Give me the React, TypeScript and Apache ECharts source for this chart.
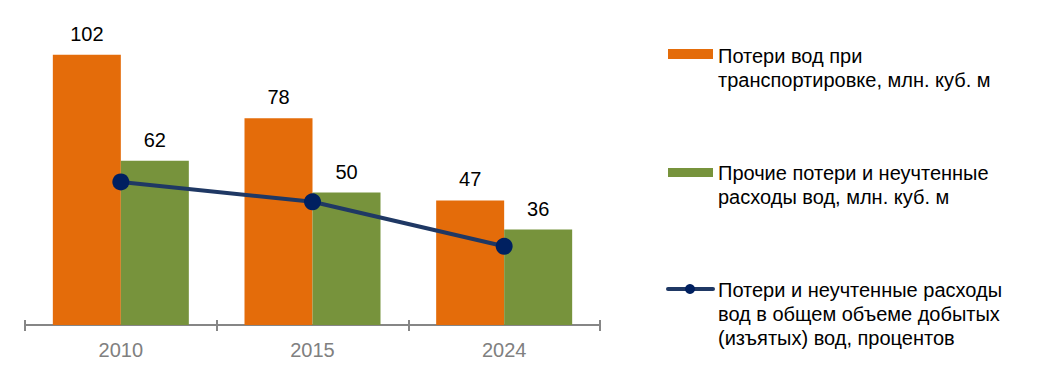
import React, { useEffect, useRef } from "react";
import * as echarts from "echarts";

const categories = ["2010", "2015", "2024"];
const transportLosses = [102, 78, 47];
const otherLosses = [62, 50, 36];
const lossShare = [18.0, 15.5, 9.9];

const legendNames = [
  "Потери вод при\nтранспортировке, млн. куб. м",
  "Прочие потери и неучтенные\nрасходы вод, млн. куб. м",
  "Потери и неучтенные расходы\nвод в общем объеме добытых\n(изъятых) вод, процентов",
];

const ORANGE = "#E46C0A";
const GREEN = "#77933C";
const NAVY = "#1F3864";
const DOT = "#002060";
const FONT = "Arial, 'Liberation Sans', sans-serif";

export default function App() {
  const ref = useRef<HTMLDivElement>(null);
  useEffect(() => {
    document.body.style.margin = "0";
    if (!ref.current) return;
    const chart = echarts.init(ref.current, undefined, { renderer: "svg" });
    const textStyle = { fontFamily: FONT, fontSize: 20, fill: "#000", lineHeight: 24 };
    chart.setOption({
      animation: false,
      textStyle: { fontFamily: FONT },
      grid: { left: 25, right: 441, top: 7, bottom: 54, containLabel: false },
      xAxis: [
        {
          type: "category",
          data: categories,
          axisLine: { lineStyle: { color: "#868686", width: 2 } },
          axisTick: { show: true, length: 6, lineStyle: { color: "#868686", width: 2 } },
          axisLabel: { color: "#808080", fontSize: 20, fontFamily: FONT, margin: 15 },
        },
        {
          type: "category",
          data: categories,
          position: "bottom",
          axisLine: { show: false },
          axisTick: { show: true, inside: true, length: 5, lineStyle: { color: "#868686", width: 2 } },
          axisLabel: { show: false },
        },
      ],
      yAxis: [
        { type: "value", min: 0, max: 120, show: false, splitLine: { show: false } },
        { type: "value", min: 0, max: 40, show: false, splitLine: { show: false } },
      ],
      series: [
        {
          name: legendNames[0],
          type: "bar",
          data: transportLosses,
          barWidth: 68,
          barGap: "0%",
          itemStyle: { color: ORANGE },
          label: { show: true, position: "top", distance: 11, color: "#000", fontSize: 20, fontFamily: FONT },
        },
        {
          name: legendNames[1],
          type: "bar",
          data: otherLosses,
          barWidth: 68,
          barGap: "0%",
          itemStyle: { color: GREEN },
          label: { show: true, position: "top", distance: 11, color: "#000", fontSize: 20, fontFamily: FONT },
        },
        {
          name: legendNames[2],
          type: "line",
          yAxisIndex: 1,
          data: lossShare,
          symbol: "circle",
          symbolSize: 17,
          lineStyle: { color: NAVY, width: 4 },
          itemStyle: { color: DOT },
          z: 5,
        },
      ],
      graphic: [
        { type: "rect", shape: { x: 668, y: 49, width: 45, height: 10 }, style: { fill: ORANGE } },
        { type: "text", x: 718, y: 44, style: { ...textStyle, text: legendNames[0] } },
        { type: "rect", shape: { x: 668, y: 168, width: 45, height: 9 }, style: { fill: GREEN } },
        { type: "text", x: 718, y: 161, style: { ...textStyle, text: legendNames[1] } },
        { type: "line", shape: { x1: 668, y1: 289, x2: 713, y2: 289 }, style: { stroke: NAVY, lineWidth: 4, lineCap: "round" } },
        { type: "circle", shape: { cx: 690, cy: 289, r: 5 }, style: { fill: DOT } },
        { type: "text", x: 718, y: 278, style: { ...textStyle, text: legendNames[2] } },
      ],
    });
    return () => chart.dispose();
  }, []);
  return <div ref={ref} style={{ width: 1041, height: 379 }} />;
}
